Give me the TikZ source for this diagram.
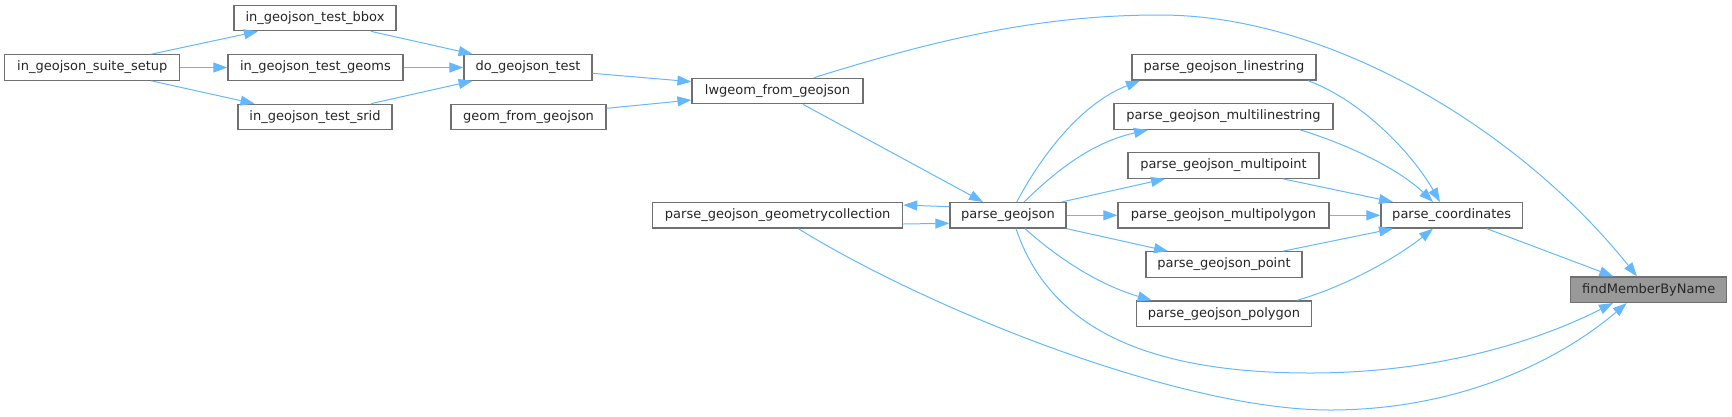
\documentclass[tikz,border=0pt]{standalone}
\usepackage{fontspec}
\setmainfont{DejaVu Sans}
\usetikzlibrary{arrows.meta}
\definecolor{edgec}{HTML}{63B8FF}
\definecolor{boxc}{HTML}{707070}
\definecolor{hic}{HTML}{999999}
\begin{document}
\begin{tikzpicture}[x=1pt,y=-1pt,
  fn/.style={draw=boxc, line width=1.2pt, fill=white, rectangle, inner sep=0pt,
    minimum height=25.5pt, font=\fontsize{13}{15}\selectfont, text=black!85},
  edge/.style={draw=edgec, line width=1pt, -{Triangle[length=14pt,width=10pt]}}]
\useasboundingbox (0,0) rectangle (1732,416);
% nodes
\node[fn, minimum width=175pt] (suite) at (92.3,67.5) {in\_geojson\_suite\_setup};
\node[fn, minimum width=162pt] (bbox) at (315,18) {in\_geojson\_test\_bbox};
\node[fn, minimum width=175pt] (geoms) at (315.5,67.5) {in\_geojson\_test\_geoms};
\node[fn, minimum width=154pt] (srid) at (315,117) {in\_geojson\_test\_srid};
\node[fn, minimum width=128pt] (do) at (528,67.5) {do\_geojson\_test};
\node[fn, minimum width=155pt] (gfrom) at (528.5,117) {geom\_from\_geojson};
\node[fn, minimum width=171pt] (lw) at (777.5,91) {lwgeom\_from\_geojson};
\node[fn, minimum width=250pt] (coll) at (777.7,215.3) {parse\_geojson\_geometrycollection};
\node[fn, minimum width=116pt] (pg) at (1008,215.3) {parse\_geojson};
\node[fn, minimum width=184pt] (ls) at (1224,67.3) {parse\_geojson\_linestring};
\node[fn, minimum width=219pt] (mls) at (1223.5,116.5) {parse\_geojson\_multilinestring};
\node[fn, minimum width=191pt] (mpt) at (1223.5,165.5) {parse\_geojson\_multipoint};
\node[fn, minimum width=211pt] (mpoly) at (1223.5,215.3) {parse\_geojson\_multipolygon};
\node[fn, minimum width=156pt] (pt) at (1224,264.5) {parse\_geojson\_point};
\node[fn, minimum width=175pt] (poly) at (1224,313.7) {parse\_geojson\_polygon};
\node[fn, minimum width=141.5pt] (coords) at (1451.7,215.3) {parse\_coordinates};
\node[fn, minimum width=156pt, fill=hic] (fmb) at (1648.7,289.7) {findMemberByName};
% edges, left part
\draw[edge] ([xshift=59pt]suite.north) -- ([xshift=-57pt]bbox.south);
\draw[edge] (suite.east) -- (geoms.west);
\draw[edge] ([xshift=59pt]suite.south) -- ([xshift=-60.5pt]srid.north);
\draw[edge] ([xshift=56pt]bbox.south) -- ([xshift=-55.4pt]do.north);
\draw[edge] (geoms.east) -- (do.west);
\draw[edge] ([xshift=56pt]srid.north) -- ([xshift=-55.4pt]do.south);
\draw[edge] ([yshift=-5.8pt]do.east) -- ([yshift=9.3pt]lw.west);
\draw[edge] ([yshift=8.7pt]gfrom.east) -- ([yshift=-9pt]lw.west);
\draw[edge] ([xshift=25.5pt]lw.south) -- ([xshift=-25pt]pg.north);
% top curve
\draw[edge] ([xshift=36.5pt]lw.north) .. controls (950,35) and (1050,15) .. (1160,15)
  .. controls (1330,15) and (1520,130) .. ([xshift=-11.7pt]fmb.north);
% collection <-> parse_geojson
\draw[edge] ([yshift=8.6pt]pg.west) -- ([yshift=10.3pt]coll.east);
\draw[edge] ([yshift=-8.7pt]coll.east) -- ([yshift=-8pt]pg.west);
% bottom curves
\draw[edge] ([xshift=20.6pt]coll.south) .. controls (930,310) and (1180,410) .. (1330,410)
  .. controls (1460,410) and (1560,360) .. ([xshift=-22pt]fmb.south);
\draw[edge] ([xshift=8pt]pg.south) .. controls (1050,330) and (1150,373) .. (1310,373)
  .. controls (1440,373) and (1540,340) .. ([xshift=-35.7pt]fmb.south);
% parse_geojson fan-out
\draw[edge] ([xshift=8.7pt]pg.north) .. controls (1050,140) and (1090,100) .. ([xshift=-84pt]ls.south);
\draw[edge] ([xshift=16pt]pg.north) .. controls (1055,172) and (1090,143) .. ([xshift=-75.5pt]mls.south);
\draw[edge] ([xshift=53.7pt]pg.north) -- ([xshift=-58.5pt]mpt.south);
\draw[edge] (pg.east) -- (mpoly.west);
\draw[edge] (pg.south east) -- ([xshift=-56pt]pt.north);
\draw[edge] ([xshift=17pt]pg.south) .. controls (1060,260) and (1100,285) .. ([xshift=-72.3pt]poly.north);
% fan-in to parse_coordinates
\draw[edge] ([xshift=84pt]ls.south) .. controls (1360,100) and (1410,150) .. ([xshift=-11.7pt]coords.north);
\draw[edge] ([xshift=76.5pt]mls.south) .. controls (1350,145) and (1400,170) .. ([xshift=-18.7pt]coords.north);
\draw[edge] ([xshift=59.5pt]mpt.south) -- ([xshift=-58.7pt]coords.north);
\draw[edge] (mpoly.east) -- (coords.west);
\draw[edge] ([xshift=59pt]pt.north) -- ([xshift=-58.7pt]coords.south);
\draw[edge] ([xshift=73pt]poly.north) .. controls (1350,285) and (1400,255) .. ([xshift=-18.7pt]coords.south);
\draw[edge] ([xshift=35pt]coords.south) -- ([xshift=-35.4pt]fmb.north);
\end{tikzpicture}
\end{document}
